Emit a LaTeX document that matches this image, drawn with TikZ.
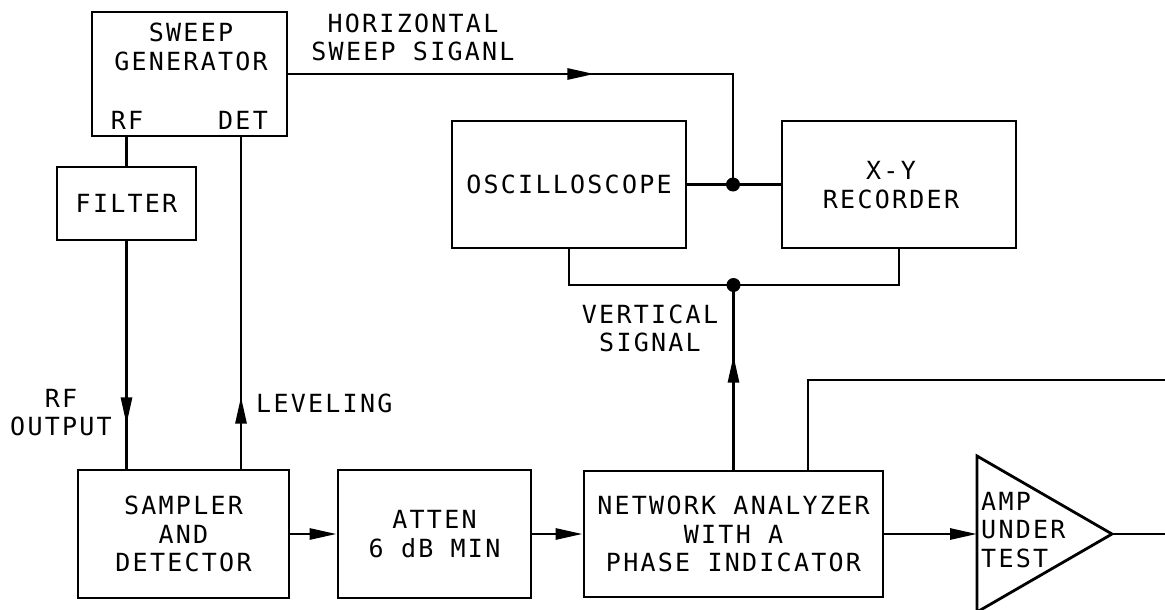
\documentclass[tikz,border=0pt]{standalone}
\usepackage{fontspec}
\setmainfont{DejaVu Sans Mono}[LetterSpace=9]
\usetikzlibrary{arrows.meta,decorations.markings,calc}
\begin{document}
\begin{tikzpicture}[x=1pt,y=-1pt,
  every node/.style={font=\fontsize{25}{28.5}\selectfont, inner sep=0pt},
  blk/.style={draw, line width=2.8pt, align=center, inner sep=0pt},
  lbl/.style={align=center, inner sep=0pt},
  wire/.style={line width=2.8pt},
  endtip/.style={-{Triangle[length=27pt,width=11pt]}},
  midtip/.style={postaction={decorate}, decoration={markings, mark=at position #1 with {\arrow[line width=2.8pt]{Triangle[length=27pt,width=11pt]}}}},
  junction/.style={circle, fill, inner sep=0pt, minimum size=14pt}]
\useasboundingbox (0,0) rectangle (1165,610);
% blocks
\node[blk, minimum width=195pt, minimum height=124pt] (sweep) at (189.5,74) {};
\node[lbl] (swt) at (191,47) {SWEEP\\GENERATOR};
\node[lbl] (rf) at (127,120) {RF};
\node[lbl] (det) at (243,120) {DET};
\node[blk, minimum width=139pt, minimum height=73pt] (filter) at (126.5,203.5) {FILTER};
\node[blk, minimum width=211pt, minimum height=128pt] (sampler) at (183.5,534) {SAMPLER\\AND\\DETECTOR};
\node[blk, minimum width=193pt, minimum height=128pt] (atten) at (434.5,534) {ATTEN\\6 dB MIN};
\node[blk, minimum width=299pt, minimum height=126pt] (na) at (733.5,534) {NETWORK ANALYZER\\WITH A\\PHASE INDICATOR};
\node[blk, minimum width=234pt, minimum height=127pt] (osc) at (569,184.5) {OSCILLOSCOPE};
\node[blk, minimum width=234pt, minimum height=127pt] (rec) at (899,184.5) {};
\node[lbl] (rect) at (891,185) {X-Y\\RECORDER};
% amplifier
\draw[line width=2.8pt, line join=miter] (977,456) -- (977,612) -- (1112,534) -- cycle;
\coordinate (ampin) at (977,534);
\coordinate (ampout) at (1112,534);
\node[align=left, anchor=west] (amptxt) at (981,530) {AMP\\UNDER\\TEST};
% labels
\node[lbl] (hlab) at (413,37.5) {HORIZONTAL\\SWEEP SIGANL};
\node[lbl] (vlab) at (650,328.5) {VERTICAL\\SIGNAL};
\node[lbl] (rflab) at (61,412.5) {RF\\OUTPUT};
\node[anchor=west] (lev) at (256,403) {LEVELING};
% junctions
\node[junction] (j1) at (733,184.5) {};
\node[junction] (j2) at (733.5,285) {};
% helper coordinates
\coordinate (detx) at (241,0);
\coordinate (fbx) at (808,0);
\coordinate (topr) at (1165,380);
\coordinate (outr) at (1165,534);
% connectors
\draw[wire, midtip=306pt] (sweep.east) -| (j1.center);
\draw[wire] (osc.east) -- (j1.center) -- (rec.west);
\draw[wire] (osc.south) |- (j2.center) -| (rec.south);
\draw[wire, midtip=114pt] (na.north) -- (j2.center);
\draw[wire] (na.north -| fbx) |- (topr);
\draw[wire] (sweep.south -| filter.north) -- (filter.north);
\draw[wire, midtip=183pt] (filter.south) -- (sampler.north -| filter.south);
\draw[wire, midtip=72pt] (sampler.north -| detx) -- (sweep.south -| detx);
\draw[wire, endtip] (sampler.east) -- (atten.west);
\draw[wire, endtip] (atten.east) -- (na.west);
\draw[wire, endtip] (na.east) -- (ampin);
\draw[wire] (ampout) -- (outr);
\end{tikzpicture}
\end{document}
